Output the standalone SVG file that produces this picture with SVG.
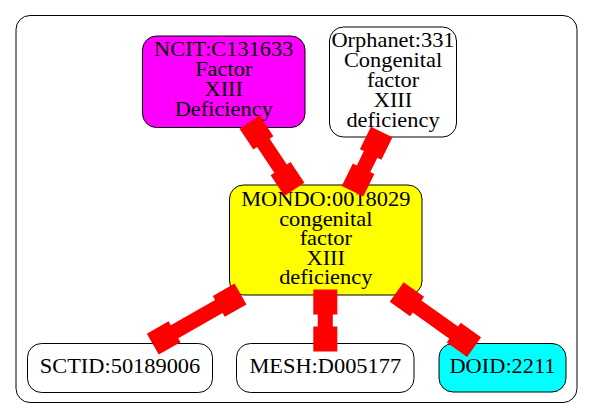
<svg xmlns="http://www.w3.org/2000/svg" width="593" height="419" viewBox="0 0 593 419">
<style>
  .node rect { stroke: #000; stroke-width: 1; }
  .cluster { fill: #fff; stroke: #000; stroke-width: 1; }
  text { font-family: "Liberation Serif", "DejaVu Serif", serif; font-size: 20px; text-anchor: middle; fill: #000; }
  .edge { fill: #ff0000; }
</style>
<rect width="593" height="419" fill="#fff"/>
<rect class="cluster" x="16" y="15.5" width="561" height="387" rx="14" ry="14"/>
<g id="node-ncit" class="node">
  <rect x="142.5" y="36" width="162.5" height="91.5" rx="14" ry="14" fill="#ff00ff"/>
  <g transform="translate(223.75 0) scale(1.12 1)">
    <text x="0" y="56.5">NCIT:C131633</text>
    <text x="0" y="76.5">Factor</text>
    <text x="0" y="96.5">XIII</text>
    <text x="0" y="116.5">Deficiency</text>
  </g>
</g>
<g id="node-orphanet" class="node">
  <rect x="329.5" y="27" width="127" height="110" rx="14" ry="14" fill="#fff"/>
  <g transform="translate(393 0) scale(1.12 1)">
    <text x="0" y="47">Orphanet:331</text>
    <text x="0" y="67">Congenital</text>
    <text x="0" y="87">factor</text>
    <text x="0" y="107">XIII</text>
    <text x="0" y="127">deficiency</text>
  </g>
</g>
<g id="node-mondo" class="node">
  <rect x="229.5" y="185" width="192.5" height="110" rx="14" ry="14" fill="#ffff00"/>
  <g transform="translate(325.75 0) scale(1.12 1)">
    <text x="0" y="206.5">MONDO:0018029</text>
    <text x="0" y="226">congenital</text>
    <text x="0" y="245.5">factor</text>
    <text x="0" y="265">XIII</text>
    <text x="0" y="284.5">deficiency</text>
  </g>
</g>
<g id="node-sctid" class="node">
  <rect x="27.5" y="343.5" width="185" height="49" rx="14" ry="14" fill="#fff"/>
  <g transform="translate(120 0) scale(1.12 1)">
    <text x="0" y="373">SCTID:50189006</text>
  </g>
</g>
<g id="node-mesh" class="node">
  <rect x="236.5" y="343.5" width="177.5" height="49" rx="14" ry="14" fill="#fff"/>
  <g transform="translate(325.25 0) scale(1.12 1)">
    <text x="0" y="373">MESH:D005177</text>
  </g>
</g>
<g id="node-doid" class="node">
  <rect x="439" y="343.5" width="127" height="48.5" rx="14" ry="14" fill="#00ffff"/>
  <g transform="translate(502.5 0) scale(1.12 1)">
    <text x="0" y="373">DOID:2211</text>
  </g>
</g>
<g id="edges">
  <path class="edge" transform="translate(249.5,122) rotate(56.31)" d="M0,-12H25V-7.5H56V-12H81V12H56V7.5H25V12H0Z"/>
  <path class="edge" transform="translate(381.7,132) rotate(116.22)" d="M0,-12H25V-7.5H41V-12H66V12H41V7.5H25V12H0Z"/>
  <path class="edge" transform="translate(240.5,294) rotate(150.25)" d="M0,-12H25V-7.5H76V-12H101V12H76V7.5H25V12H0Z"/>
  <path class="edge" transform="translate(325.3,289.5) rotate(90)" d="M0,-12H25V-7.5H37V-12H62V12H37V7.5H25V12H0Z"/>
  <path class="edge" transform="translate(396.7,292) rotate(35.46)" d="M0,-12H25V-7.5H70V-12H95V12H70V7.5H25V12H0Z"/>
</g>
</svg>
